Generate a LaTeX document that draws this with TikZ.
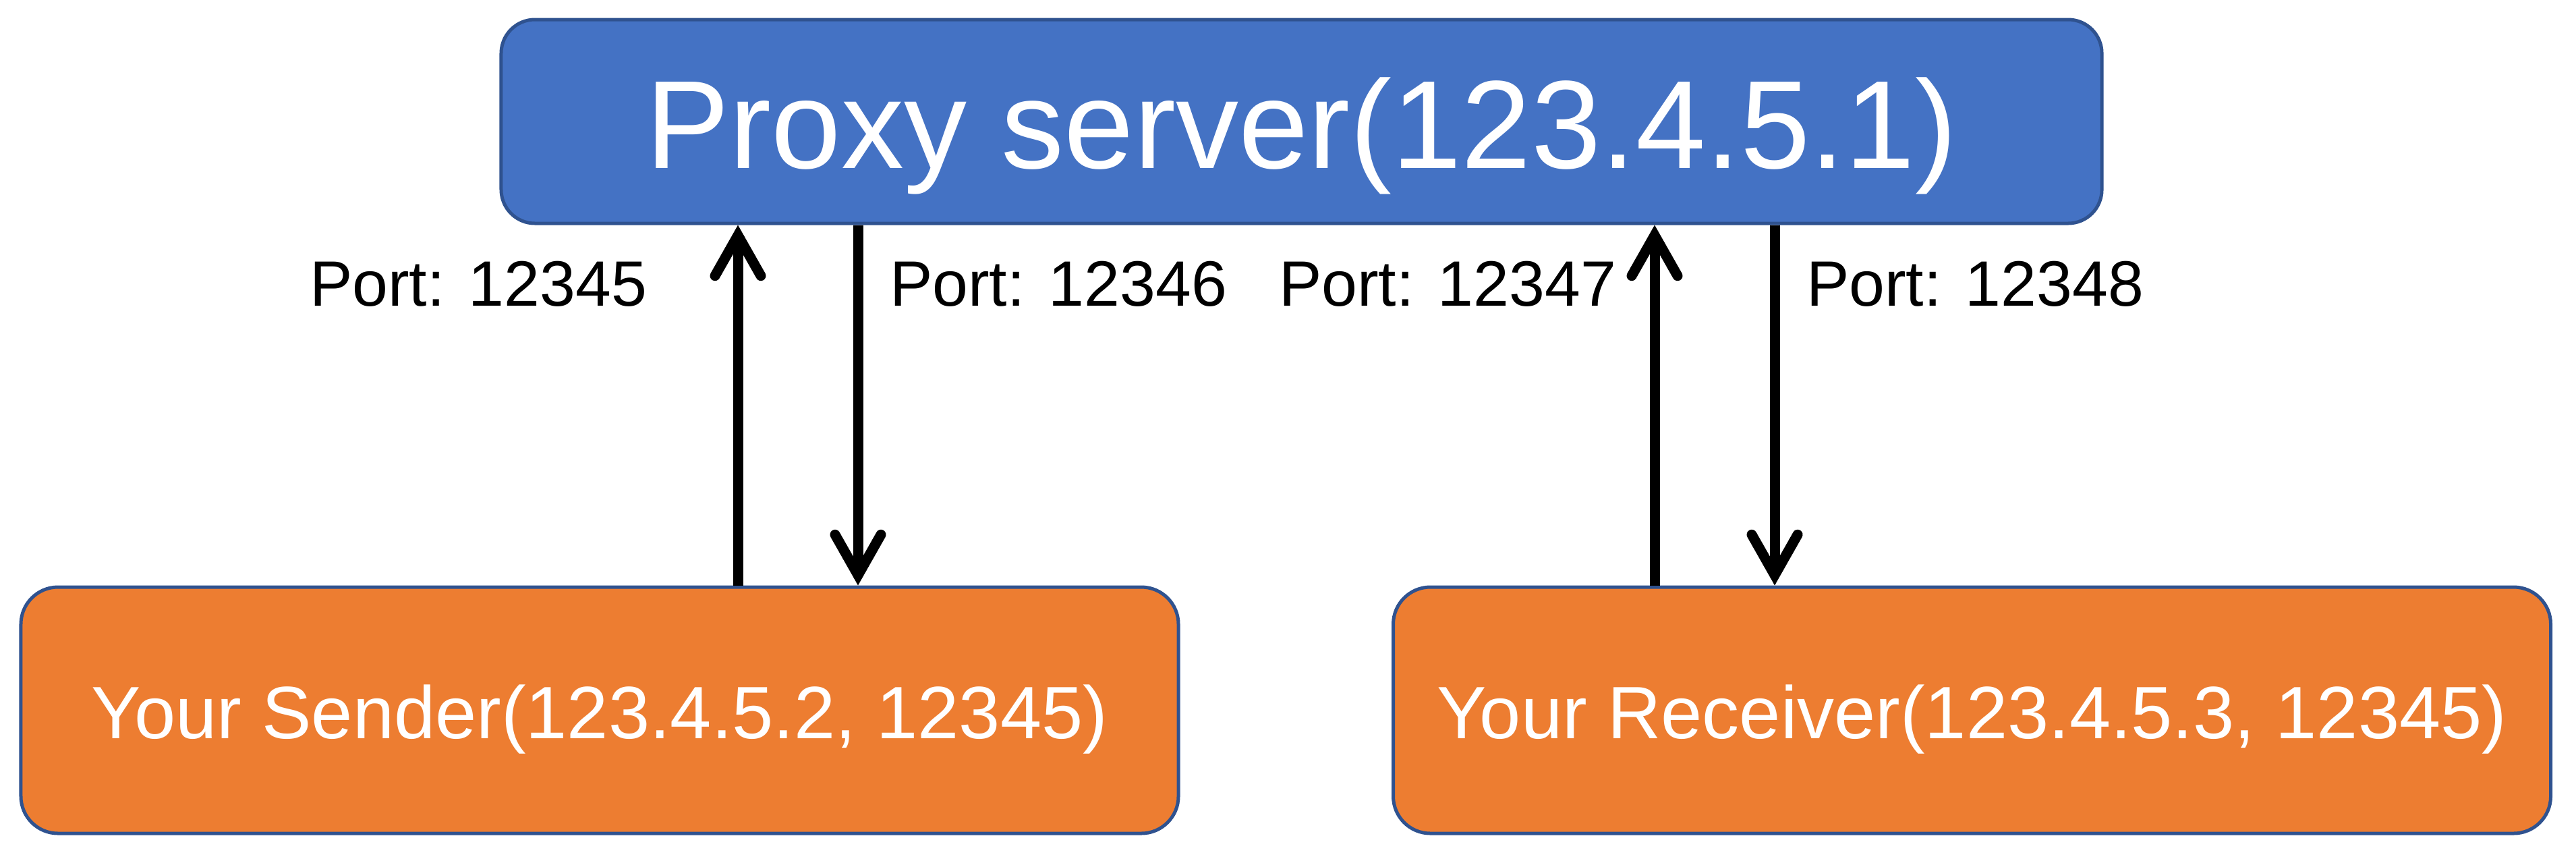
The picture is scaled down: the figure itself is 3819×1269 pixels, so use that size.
\documentclass[tikz,border=0pt]{standalone}
\usepackage{fontspec}
\setmainfont{Liberation Sans}
\usetikzlibrary{arrows.meta}
\definecolor{proxyblue}{HTML}{4472C4}
\definecolor{edgeblue}{HTML}{2F528F}
\definecolor{hostorange}{HTML}{ED7D31}
\begin{document}
\begin{tikzpicture}[x=0.2pt,y=-0.2pt,
  box/.style={draw=edgeblue, line width=1pt, text=white, inner sep=0pt, align=center},
  proxybox/.style={box, fill=proxyblue, rounded corners=10pt, minimum width=474.6pt, minimum height=60.4pt,
    font=\fontsize{37.2}{40}\selectfont, text height=27.6pt, text depth=0pt},
  hostbox/.style={box, fill=hostorange, rounded corners=11pt, minimum width=343.2pt, minimum height=73pt,
    font=\fontsize{22}{26}\selectfont, text height=16.6pt, text depth=0pt},
  portlabel/.style={anchor=base west, inner sep=0pt, font=\fontsize{19}{22}\selectfont},
  flow/.style={line width=3pt, -{Straight Barb[length=12pt,width=13.6pt,line cap=round]}}
]
\useasboundingbox (0,0) rectangle (3819,1269);
\node[proxybox] (proxy) at (1929.5,180) {Proxy server(123.4.5.1)};
\node[hostbox] (sender) at (889,1052.5) {Your Sender(123.4.5.2, 12345)};
\node[hostbox] (receiver) at (2923.5,1052.5) {Your Receiver(123.4.5.3, 12345)};
\coordinate (c1) at (1094,0);
\coordinate (c2) at (1272,0);
\coordinate (c3) at (2453,0);
\coordinate (c4) at (2631,0);
\draw[flow] (sender.north -| c1) -- (proxy.south -| c1);
\draw[flow] (proxy.south -| c2) -- (sender.north -| c2);
\draw[flow] (receiver.north -| c3) -- (proxy.south -| c3);
\draw[flow] (proxy.south -| c4) -- (receiver.north -| c4);
\node[portlabel] (p1) at (458,453) {Port: 12345};
\node[portlabel] (p2) at (1318,453) {Port: 12346};
\node[portlabel] (p3) at (1895,453) {Port: 12347};
\node[portlabel] (p4) at (2677,453) {Port: 12348};
\end{tikzpicture}
\end{document}
